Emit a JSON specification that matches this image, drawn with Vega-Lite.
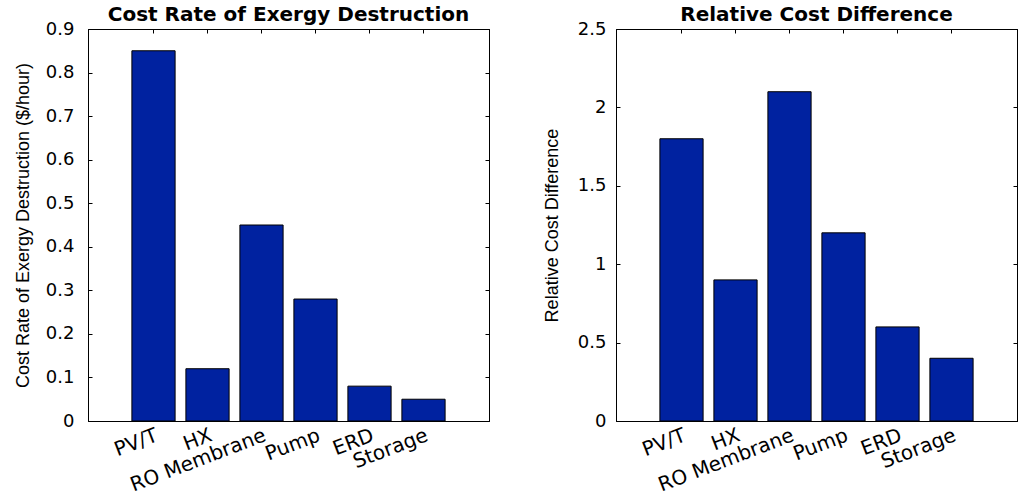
{
  "$schema": "https://vega.github.io/schema/vega-lite/v6.json",
  "background": "white",
  "padding": {"left": 13, "top": 4, "right": 0, "bottom": 0},
  "spacing": 52,
  "data": {"values": [
    {"component": "PV/T", "cost": 0.85, "rcd": 1.8},
    {"component": "HX", "cost": 0.12, "rcd": 0.9},
    {"component": "RO Membrane", "cost": 0.45, "rcd": 2.1},
    {"component": "Pump", "cost": 0.28, "rcd": 1.2},
    {"component": "ERD", "cost": 0.08, "rcd": 0.6},
    {"component": "Storage", "cost": 0.05, "rcd": 0.4}
  ]},
  "hconcat": [
    {
      "width": 401, "height": 392,
      "title": {"text": "Cost Rate of Exergy Destruction"},
      "layer": [
        {
          "mark": {"type": "bar", "fill": "#0022A0", "stroke": "black", "strokeWidth": 1},
          "encoding": {
            "x": {"field": "component", "type": "nominal", "sort": null,
                  "scale": {"paddingInner": 0.2, "paddingOuter": 0.813},
                  "axis": {"orient": "bottom", "title": null, "labelAngle": -21, "labelAlign": "right", "labelBaseline": "top", "tickSize": -4, "labelPadding": 8, "labelFontSize": 20}},
            "y": {"field": "cost", "type": "quantitative",
                  "scale": {"domain": [0, 0.9], "nice": false, "zero": true},
                  "axis": {"orient": "left", "title": "Cost Rate of Exergy Destruction ($/hour)", "values": [0, 0.1, 0.2, 0.3, 0.4, 0.5, 0.6, 0.7, 0.8, 0.9], "format": ".1~f", "tickSize": -4, "labelPadding": 18, "titlePadding": 13}}
          }
        },
        {
          "mark": {"type": "bar", "opacity": 0},
          "encoding": {
            "x": {"field": "component", "type": "nominal", "sort": null,
                  "axis": {"orient": "top", "title": null, "labels": false, "tickSize": -4}},
            "y": {"field": "cost", "type": "quantitative",
                  "axis": {"orient": "right", "title": null, "labels": false, "values": [0, 0.1, 0.2, 0.3, 0.4, 0.5, 0.6, 0.7, 0.8, 0.9], "tickSize": -4}}
          }
        }
      ],
      "resolve": {"axis": {"x": "independent", "y": "independent"}}
    },
    {
      "width": 401, "height": 392,
      "title": {"text": "Relative Cost Difference"},
      "layer": [
        {
          "mark": {"type": "bar", "fill": "#0022A0", "stroke": "black", "strokeWidth": 1},
          "encoding": {
            "x": {"field": "component", "type": "nominal", "sort": null,
                  "scale": {"paddingInner": 0.2, "paddingOuter": 0.813},
                  "axis": {"orient": "bottom", "title": null, "labelAngle": -21, "labelAlign": "right", "labelBaseline": "top", "tickSize": -4, "labelPadding": 8, "labelFontSize": 20}},
            "y": {"field": "rcd", "type": "quantitative",
                  "scale": {"domain": [0, 2.5], "nice": false, "zero": true},
                  "axis": {"orient": "left", "title": "Relative Cost Difference", "values": [0, 0.5, 1, 1.5, 2, 2.5], "format": ".1~f", "tickSize": -4, "labelPadding": 14, "titlePadding": 16}}
          }
        },
        {
          "mark": {"type": "bar", "opacity": 0},
          "encoding": {
            "x": {"field": "component", "type": "nominal", "sort": null,
                  "axis": {"orient": "top", "title": null, "labels": false, "tickSize": -4}},
            "y": {"field": "rcd", "type": "quantitative",
                  "axis": {"orient": "right", "title": null, "labels": false, "values": [0, 0.5, 1, 1.5, 2, 2.5], "tickSize": -4}}
          }
        }
      ],
      "resolve": {"axis": {"x": "independent", "y": "independent"}}
    }
  ],
  "config": {
    "view": {"stroke": "black", "strokeWidth": 1},
    "title": {"font": "DejaVu Sans", "fontSize": 20, "fontWeight": "bold", "color": "black", "offset": -5, "anchor": "middle"},
    "axis": {
      "grid": false,
      "domainColor": "black", "tickColor": "black", "labelColor": "black", "titleColor": "black",
      "labelFont": "DejaVu Sans", "labelFontSize": 18,
      "titleFont": "Liberation Sans", "titleFontSize": 18, "titleFontWeight": "normal"
    }
  }
}
